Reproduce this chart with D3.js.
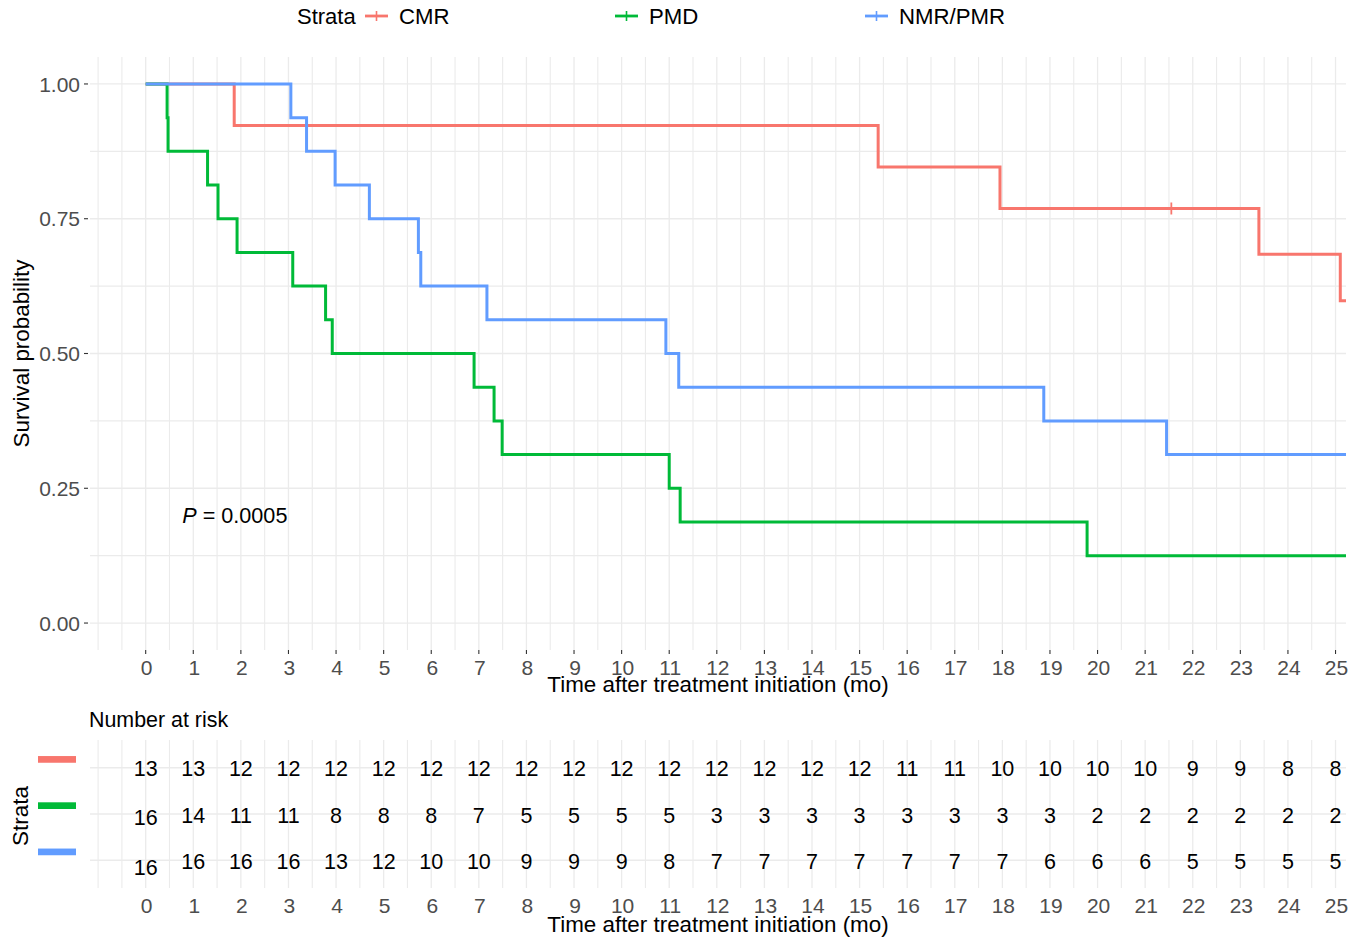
<!DOCTYPE html>
<html>
<head>
<meta charset="utf-8">
<script src="https://cdn.jsdelivr.net/npm/d3@7"></script>
<style>
  body { margin: 0; background: #fff; }
  svg { font-family: "Liberation Sans", Arial, sans-serif; }
</style>
</head>
<body>
<div id="chart"></div>
<script>
// strata and colours
const strata = ["CMR", "PMD", "NMR/PMR"];
const colors = ["#F8766D", "#00BA38", "#619CFF"];

// Kaplan-Meier steps (months, survival)
const cmrTime = [0, 1.86, 15.39, 17.95, 23.39, 25.1, 25.22];
const cmrSurv = [1, 0.923, 0.846, 0.769, 0.684, 0.598, 0.598];
const pmdTime = [0, 0.45, 0.47, 1.3, 1.52, 1.92, 3.09, 3.78, 3.92, 6.9, 7.32, 7.49, 11.0, 11.23, 19.78, 25.22];
const pmdSurv = [1, 0.9375, 0.875, 0.8125, 0.75, 0.6875, 0.625, 0.5625, 0.5, 0.4375, 0.375, 0.3125, 0.25, 0.1875, 0.125, 0.125];
const nmrTime = [0, 3.05, 3.38, 3.98, 4.7, 5.73, 5.78, 7.17, 10.93, 11.2, 18.87, 21.45, 25.22];
const nmrSurv = [1, 0.9375, 0.875, 0.8125, 0.75, 0.6875, 0.625, 0.5625, 0.5, 0.4375, 0.375, 0.3125, 0.3125];

// censored observations
const censorTime = [21.55];
const censorSurv = [0.769];
const censorStrata = ["CMR"];

// number at risk table
const riskTimes = d3.range(0, 26);
const riskCMR = [13, 13, 12, 12, 12, 12, 12, 12, 12, 12, 12, 12, 12, 12, 12, 12, 11, 11, 10, 10, 10, 10, 9, 9, 8, 8];
const riskPMD = [16, 14, 11, 11, 8, 8, 8, 7, 5, 5, 5, 5, 3, 3, 3, 3, 3, 3, 3, 3, 2, 2, 2, 2, 2, 2];
const riskNMR = [16, 16, 16, 16, 13, 12, 10, 10, 9, 9, 9, 8, 7, 7, 7, 7, 7, 7, 7, 6, 6, 6, 5, 5, 5, 5];

const yTicks = [0, 0.25, 0.5, 0.75, 1];
const xTitle = "Time after treatment initiation (mo)";

const width = 1367, height = 941;
const left = 90, right = 1346;
const top1 = 57, bottom1 = 650;   // survival panel
const top2 = 740, bottom2 = 888;  // risk table panel

const gridColor = "#EBEBEB";
const tickColor = "#4D4D4D";

const svg = d3.select("#chart").append("svg")
  .attr("width", width)
  .attr("height", height);

const x = d3.scaleLinear().domain([-1.17, 25.22]).range([left, right]);
const y = d3.scaleLinear().domain([-0.05, 1.05]).range([bottom1, top1]);
const yr = d3.scalePoint().domain(strata).range([top2, bottom2]).padding(0.6);

const majorX = riskTimes;
const minorX = d3.range(-1, 25.5, 0.5).filter(v => v % 1 !== 0).concat([-1]);

// grid lines for both panels
function drawVGrid(y0, y1) {
  const g = svg.append("g");
  g.selectAll("line.minor").data(minorX).enter().append("line")
    .attr("x1", d => x(d)).attr("x2", d => x(d))
    .attr("y1", y0).attr("y2", y1)
    .attr("stroke", gridColor).attr("stroke-width", 1.1);
  g.selectAll("line.major").data(majorX).enter().append("line")
    .attr("x1", d => x(d)).attr("x2", d => x(d))
    .attr("y1", y0).attr("y2", y1)
    .attr("stroke", gridColor).attr("stroke-width", 1.3);
}
drawVGrid(top1, bottom1);
drawVGrid(top2, bottom2);

const yMinor = [0.125, 0.375, 0.625, 0.875];
svg.append("g").selectAll("line").data(yMinor.concat(yTicks)).enter().append("line")
  .attr("x1", left).attr("x2", right)
  .attr("y1", d => y(d)).attr("y2", d => y(d))
  .attr("stroke", gridColor).attr("stroke-width", d => yTicks.includes(d) ? 1.3 : 1.1);

svg.append("g").selectAll("line").data(strata).enter().append("line")
  .attr("x1", left).attr("x2", right)
  .attr("y1", d => yr(d)).attr("y2", d => yr(d))
  .attr("stroke", gridColor).attr("stroke-width", 1.3);

// y axis of survival panel
svg.append("g").selectAll("line").data(yTicks).enter().append("line")
  .attr("x1", left - 6).attr("x2", left - 2)
  .attr("y1", d => y(d)).attr("y2", d => y(d))
  .attr("stroke", "#333").attr("stroke-width", 1.1);
svg.append("g").selectAll("text").data(yTicks).enter().append("text")
  .attr("x", left - 10).attr("y", d => y(d))
  .attr("dy", "0.36em")
  .attr("text-anchor", "end")
  .attr("fill", tickColor)
  .style("font-size", "21px")
  .text(d => d3.format(".2f")(d));

// x axis of survival panel
svg.append("g").selectAll("line").data(majorX).enter().append("line")
  .attr("x1", d => x(d)).attr("x2", d => x(d))
  .attr("y1", bottom1).attr("y2", bottom1 + 4)
  .attr("stroke", "#333").attr("stroke-width", 1.1);
svg.append("g").selectAll("text").data(majorX).enter().append("text")
  .attr("x", d => x(d) + 1).attr("y", 675)
  .attr("text-anchor", "middle")
  .attr("fill", tickColor)
  .style("font-size", "21px")
  .text(d => d);

svg.append("text")
  .attr("x", (left + right) / 2).attr("y", 692)
  .attr("text-anchor", "middle")
  .style("font-size", "22.4px")
  .text(xTitle);

svg.append("text")
  .attr("transform", `translate(29,${(top1 + bottom1) / 2}) rotate(-90)`)
  .attr("text-anchor", "middle")
  .style("font-size", "22.4px")
  .text("Survival probability");

// survival curves
const curves = [
  { name: "CMR", time: cmrTime, surv: cmrSurv },
  { name: "PMD", time: pmdTime, surv: pmdSurv },
  { name: "NMR/PMR", time: nmrTime, surv: nmrSurv }
];
const color = d3.scaleOrdinal().domain(strata).range(colors);
const step = d3.line()
  .x(d => x(d[0]))
  .y(d => y(d[1]))
  .curve(d3.curveStepAfter);

svg.append("g").selectAll("path").data(curves).enter().append("path")
  .attr("d", c => step(c.time.map((t, i) => [t, c.surv[i]])))
  .attr("fill", "none")
  .attr("stroke", c => color(c.name))
  .attr("stroke-width", 3);

// censor marks
const censors = censorTime.map((t, i) => ({ t: t, s: censorSurv[i], name: censorStrata[i] }));
const cg = svg.append("g").selectAll("g").data(censors).enter().append("g")
  .attr("transform", d => `translate(${x(d.t)},${y(d.s)})`)
  .attr("stroke", d => color(d.name))
  .attr("stroke-width", 1.8);
cg.append("line").attr("x1", -6).attr("x2", 6);
cg.append("line").attr("y1", -6).attr("y2", 6);

// p-value
const pv = svg.append("text")
  .attr("x", x(0.77)).attr("y", y(0.2)).attr("dy", "0.36em")
  .style("font-size", "21.6px");
pv.append("tspan").style("font-style", "italic").text("P");
pv.append("tspan").text(" = 0.0005");

// legend
svg.append("text").attr("x", 297).attr("y", 24).style("font-size", "22px").text("Strata");
const legendX = [365, 615, 865];
const lg = svg.append("g").selectAll("g").data(strata).enter().append("g")
  .attr("transform", (d, i) => `translate(${legendX[i]},16)`);
lg.append("line").attr("x1", 0).attr("x2", 23)
  .attr("stroke", d => color(d)).attr("stroke-width", 2.8);
lg.append("line").attr("x1", 11.5).attr("x2", 11.5).attr("y1", -5).attr("y2", 5)
  .attr("stroke", d => color(d)).attr("stroke-width", 1.6);
lg.append("text").attr("x", 34).attr("y", 8)
  .style("font-size", "22.2px")
  .text(d => d);

// risk table
svg.append("text").attr("x", 89).attr("y", 727).style("font-size", "21.4px").text("Number at risk");

const riskRows = [
  { name: "CMR", vals: riskCMR },
  { name: "PMD", vals: riskPMD },
  { name: "NMR/PMR", vals: riskNMR }
];
const firstNudge = { "CMR": 0, "PMD": 2.5, "NMR/PMR": 6 };
riskRows.forEach(r => {
  svg.append("g").selectAll("text").data(riskTimes).enter().append("text")
    .attr("x", d => x(d))
    .attr("y", d => yr(r.name) + 1 + (d === 0 ? firstNudge[r.name] : 0))
    .attr("dy", "0.36em")
    .attr("text-anchor", "middle")
    .style("font-size", "21.5px")
    .text((d, i) => r.vals[i]);
});

svg.append("g").selectAll("rect").data(strata).enter().append("rect")
  .attr("x", 38).attr("width", 38)
  .attr("y", d => yr(d) - 11.7).attr("height", 6.7)
  .attr("fill", d => color(d));

svg.append("text")
  .attr("transform", `translate(28,${(top2 + bottom2) / 2 + 2}) rotate(-90)`)
  .attr("text-anchor", "middle")
  .style("font-size", "22.4px")
  .text("Strata");

svg.append("g").selectAll("text").data(majorX).enter().append("text")
  .attr("x", d => x(d) + 1).attr("y", 913)
  .attr("text-anchor", "middle")
  .attr("fill", tickColor)
  .style("font-size", "21px")
  .text(d => d);

svg.append("text")
  .attr("x", (left + right) / 2).attr("y", 932)
  .attr("text-anchor", "middle")
  .style("font-size", "22.4px")
  .text(xTitle);
</script>
</body>
</html>
